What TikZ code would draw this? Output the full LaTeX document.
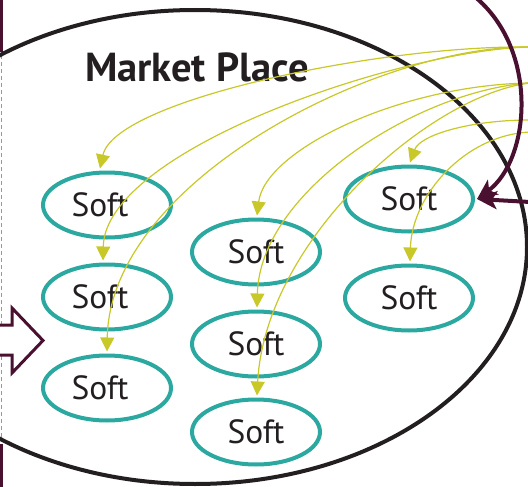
\documentclass[tikz,border=0pt]{standalone}
\usepackage{fontspec}
\setmainfont{PT Sans}
\usetikzlibrary{arrows.meta,shapes.geometric}
\definecolor{softteal}{HTML}{2BA89F}
\definecolor{ylw}{HTML}{C8C828}
\definecolor{maroon}{HTML}{4A1030}
\definecolor{ink}{HTML}{231F20}
\begin{document}
\begin{tikzpicture}[x=1pt,y=-1pt,
  soft/.style={ellipse,draw=softteal,line width=4pt,minimum width=128pt,minimum height=65pt,inner sep=0pt,text=ink,font=\fontsize{33.5}{36}\selectfont},
  ya/.style={draw=ylw,line width=1.2pt,-{Triangle[length=14pt,width=14pt]},fill=none},
  ma/.style={draw=maroon,line width=4pt,-{Stealth[length=20pt,width=18pt,inset=5pt]}}
]
\useasboundingbox (0,0) rectangle (528,487);
\clip (0,0) rectangle (528,487);
% left edge lines
\draw[maroon,line width=3pt] (1.5,-2) -- (1.5,52);
\draw[maroon,line width=3pt] (1.5,444) -- (1.5,490);
\draw[gray!80,line width=1.2pt,dash pattern=on 4pt off 3pt] (1.5,55) -- (1.5,440);
% market place
\draw[ink,line width=4pt] (195,247) ellipse [x radius=332, y radius=237];
\node[anchor=base west,text=ink,font=\fontsize{40.5}{44}\selectfont\bfseries,inner sep=0pt] (mp) at (85,82) {Market Place};
% block arrow on the left
\draw[maroon,line width=3pt,fill=white,line join=miter] (-5,325) -- (12,325) -- (12,308) -- (43,340.5) -- (12,373) -- (12,355) -- (-5,355);
% soft nodes
\node[soft] (a1) at (107,205) {\kern-14pt Soft};
\node[soft] (a2) at (107,297) {\kern-14pt Soft};
\node[soft] (a3) at (107,388) {\kern-14pt Soft};
\node[soft] (b1) at (256,252) {Soft};
\node[soft] (b2) at (256,344) {Soft};
\node[soft] (b3) at (256,432) {Soft};
\node[soft] (c1) at (409,199) {Soft};
\node[soft] (c2) at (409,298) {Soft};
% sources on the right edge
\coordinate (s1) at (530,47);
\coordinate (s2) at (530,83);
\coordinate (s3) at (530,120);
\coordinate (s4) at (530,132);
\coordinate (m1) at (474,-4);
\coordinate (m2) at (530,202);
% yellow arrows
\draw[ya] (s1) .. controls (380,45) and (115,100) .. ([xshift=-7pt,yshift=2pt]a1.north);
\draw[ya] (s1) .. controls (400,50) and (105,150) .. ([xshift=-4pt,yshift=2pt]a2.north);
\draw[ya] (s1) .. controls (380,45) and (110,180) .. ([yshift=2pt]a3.north);
\draw[ya] (s2) .. controls (400,85) and (265,150) .. ([xshift=1pt,yshift=2pt]b1.north);
\draw[ya] (s2) .. controls (420,90) and (260,190) .. ([xshift=1pt,yshift=2pt]b2.north);
\draw[ya] (s2) .. controls (430,95) and (265,240) .. ([xshift=1pt,yshift=2pt]b3.north);
\draw[ya] (s3) .. controls (470,120) and (420,135) .. ([xshift=1pt,yshift=2pt]c1.north);
\draw[ya] (s4) .. controls (465,135) and (412,195) .. ([xshift=1pt,yshift=2pt]c2.north);
% maroon arrows
\draw[ma] (m1) .. controls (540,50) and (530,160) .. ([xshift=2pt]c1.east);
\draw[ma] (m2) -- ([xshift=2pt]c1.east);
\end{tikzpicture}
\end{document}
